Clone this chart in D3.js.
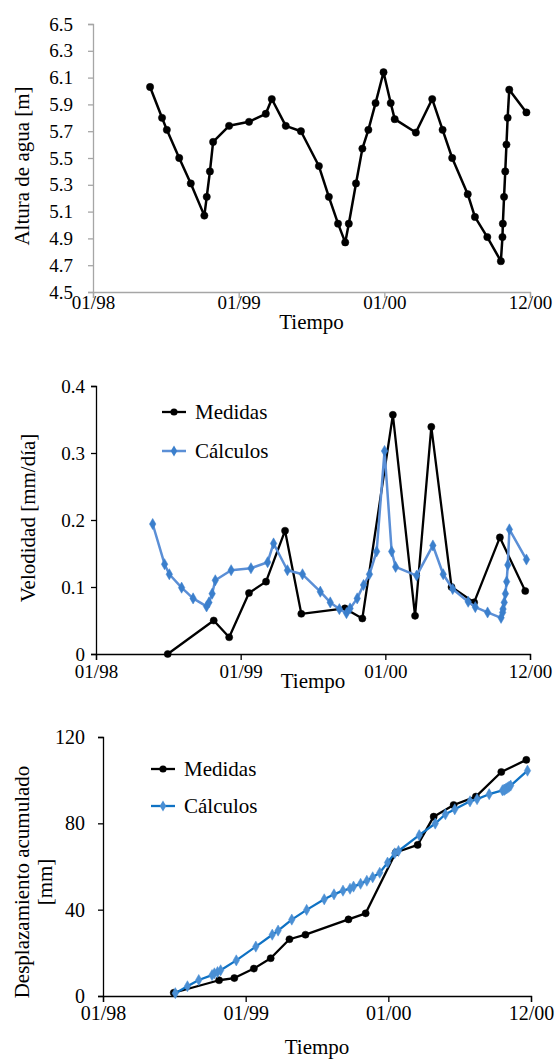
<!DOCTYPE html>
<html>
<head>
<meta charset="utf-8">
<script src="https://cdnjs.cloudflare.com/ajax/libs/d3/7.8.5/d3.min.js"></script>
<style>
body { margin: 0; background: #fff; }
svg { display: block; font-family: "Liberation Serif", "Times New Roman", serif; }
</style>
</head>
<body>
<div id="chart"></div>
<script>
// fechas de nivel de agua y de los cálculos
var fechasCalc = ['1998-05-24','1998-06-23','1998-07-05','1998-08-05','1998-09-03','1998-10-07','1998-10-13','1998-10-21','1998-10-29','1998-12-08',
    '1999-01-27','1999-03-10','1999-03-25','1999-04-29','1999-06-06','1999-07-21','1999-08-15','1999-09-07','1999-09-25','1999-10-04',
    '1999-10-22','1999-11-07','1999-11-22','1999-12-10','1999-12-30','2000-01-17','2000-01-27','2000-03-20','2000-04-30','2000-05-26',
    '2000-06-19','2000-07-28','2000-08-15','2000-09-15','2000-10-19','2000-10-23','2000-10-24','2000-10-27','2000-10-30','2000-11-02',
    '2000-11-05','2000-11-09','2000-12-22'];

var altura = [6.03, 5.80, 5.71, 5.50, 5.31, 5.07, 5.21, 5.40, 5.62, 5.74,
    5.77, 5.83, 5.94, 5.74, 5.70, 5.44, 5.21, 5.01, 4.87, 5.01,
    5.31, 5.57, 5.71, 5.91, 6.14, 5.91, 5.79, 5.69, 5.94, 5.71,
    5.50, 5.23, 5.06, 4.91, 4.73, 4.91, 5.01, 5.21, 5.40, 5.60,
    5.80, 6.01, 5.84];

var velCalc = [0.194, 0.134, 0.119, 0.099, 0.083, 0.071, 0.077, 0.090, 0.110, 0.125,
    0.128, 0.137, 0.165, 0.125, 0.119, 0.093, 0.077, 0.067, 0.061, 0.068,
    0.083, 0.103, 0.119, 0.153, 0.303, 0.153, 0.130, 0.117, 0.162, 0.119,
    0.097, 0.078, 0.070, 0.062, 0.054, 0.062, 0.067, 0.077, 0.090, 0.108,
    0.133, 0.186, 0.141];

// el acumulado calculado empieza en la 3a fecha
var fechasCalcAcum = fechasCalc.slice(2);
var despCalc = [1.3, 4.5, 7.4, 9.7, 10.5, 11.1, 11.9, 16.5,
    22.9, 28.4, 30.3, 35.4, 39.9, 44.8, 47.1, 48.8, 49.7, 50.7,
    52.0, 53.4, 55.0, 57.1, 61.8, 66.1, 67.2, 74.5, 79.9, 84.2,
    86.5, 90.2, 91.2, 93.5, 95.3, 95.5, 95.6, 95.9, 96.2, 96.6,
    97.0, 97.5, 104.4];

// medidas
var fechasMed = ['1998-07-01','1998-10-25','1998-12-03','1999-01-22','1999-03-06','1999-04-23','1999-06-03','1999-09-21',
    '1999-11-04','2000-01-20','2000-03-16','2000-04-26','2000-06-16','2000-08-12','2000-10-16','2000-12-19'];
var velMed = [0.000, 0.050, 0.025, 0.091, 0.108, 0.184, 0.060, 0.068, 0.053, 0.357, 0.057, 0.339, 0.100, 0.077, 0.174, 0.094];
var despMed = [1.5, 7.3, 8.3, 12.7, 17.5, 26.3, 28.4, 35.5, 38.3, 66.5, 70.0, 83.1, 88.5, 92.4, 103.8, 109.4];

// ejes
var ticksFecha = ['1998-01-01','1999-01-01','2000-01-01','2000-12-31'];
var ticksAltura = [4.5, 4.7, 4.9, 5.1, 5.3, 5.5, 5.7, 5.9, 6.1, 6.3, 6.5];
var ticksVel = [0, 0.1, 0.2, 0.3, 0.4];
var ticksDesp = [0, 40, 80, 120];
var leyenda = ['Medidas', 'Cálculos'];

var parse = d3.utcParse('%Y-%m-%d');
var fmtFecha = d3.utcFormat('%m/%y');

function serie(fechas, valores){
    return fechas.map(function(f, i){ return {fecha: parse(f), v: valores[i]}; });
}

var svg = d3
.select('#chart')
.append('svg')
.attr('width', 556)
.attr('height', 1059)
;

function panel(cfg){
    var x = d3.scaleUtc()
    .domain([parse(ticksFecha[0]), parse(ticksFecha[3])])
    .range([cfg.left, cfg.right]);

    var y = d3.scaleLinear()
    .domain(cfg.dominio)
    .range([cfg.bottom, cfg.top]);

    var g = svg.append('g');

    // eje y
    var ay = g.append('g')
    .attr('transform', 'translate(' + cfg.left + ',0)')
    .call(d3.axisLeft(y).tickValues(cfg.ticks).tickSize(5).tickPadding(cfg.padY).tickFormat(cfg.fmt));

    // eje x
    var ax = g.append('g')
    .attr('transform', 'translate(0,' + cfg.bottom + ')')
    .call(d3.axisBottom(x).tickValues(ticksFecha.map(parse)).tickSize(6).tickPadding(cfg.padX).tickFormat(fmtFecha));

    [ax, ay].forEach(function(a){
        a.attr('font-family', null);
        a.select('.domain').attr('stroke', cfg.colorEje).attr('stroke-width', 1.3);
        a.selectAll('.tick line').attr('stroke', cfg.colorEje).attr('stroke-width', 1.3);
        a.selectAll('.tick text')
        .attr('fill', '#000')
        .style('font-family', '"Liberation Serif", "Times New Roman", serif')
        .style('font-size', cfg.fontTick + 'px');
    });

    // titulo x
    g.append('text')
    .attr('x', (cfg.left + cfg.right) / 2)
    .attr('y', cfg.tituloXy)
    .attr('text-anchor', 'middle')
    .style('font-size', '21px')
    .text('Tiempo');

    // titulo y (una o dos lineas)
    var ty = g.append('text')
    .attr('transform', 'translate(' + cfg.tituloYx + ',' + cfg.tituloYc + ') rotate(-90)')
    .attr('text-anchor', 'middle')
    .style('font-size', '21px');
    cfg.tituloY.forEach(function(t, i){
        ty.append('tspan').attr('x', 0).attr('dy', i == 0 ? 0 : 23).text(t);
    });

    var linea = d3.line()
    .x(function(d){ return x(d.fecha); })
    .y(function(d){ return y(d.v); });

    cfg.series.forEach(function(s){
        g.append('path')
        .datum(s.datos)
        .attr('fill', 'none')
        .attr('stroke', s.color)
        .attr('stroke-width', s.ancho)
        .attr('stroke-linejoin', 'round')
        .attr('d', linea);

        g.selectAll(null)
        .data(s.datos)
        .enter()
        .append('path')
        .attr('transform', function(d){ return 'translate(' + x(d.fecha) + ',' + y(d.v) + ')'; })
        .attr('d', d3.symbol(s.forma, s.tam))
        .attr('fill', s.relleno)
        .attr('stroke', s.relleno)
        .attr('stroke-width', 0.5);
    });

    // leyenda
    if (cfg.leyenda){
        cfg.series.forEach(function(s, i){
            var ly = cfg.leyenda.y + i * cfg.leyenda.paso;
            g.append('line')
            .attr('x1', cfg.leyenda.x).attr('x2', cfg.leyenda.x + 24)
            .attr('y1', ly).attr('y2', ly)
            .attr('stroke', s.color).attr('stroke-width', s.ancho);
            g.append('path')
            .attr('transform', 'translate(' + (cfg.leyenda.x + 12) + ',' + ly + ')')
            .attr('d', d3.symbol(s.forma, s.tam))
            .attr('fill', s.relleno);
            g.append('text')
            .attr('x', cfg.leyenda.x + 33)
            .attr('y', ly + 7)
            .style('font-size', '21px')
            .text(leyenda[i]);
        });
    }
}

// grafico 1 - altura de agua
panel({
    left: 93, right: 530, top: 24, bottom: 292,
    dominio: [4.5, 6.5], ticks: ticksAltura, fmt: d3.format('.1f'),
    colorEje: '#a6a6a6', fontTick: 19, padY: 15, padX: -2,
    tituloXy: 329, tituloYx: 29, tituloYc: 166, tituloY: ['Altura de agua [m]'],
    series: [
        {datos: serie(fechasCalc, altura), color: '#000', relleno: '#000', ancho: 2.5, forma: d3.symbolCircle, tam: 42}
    ]
});

// grafico 2 - velocidad
panel({
    left: 96, right: 530, top: 386, bottom: 654,
    dominio: [0, 0.4], ticks: ticksVel, fmt: function(d){ return d == 0 ? '0' : d3.format('.1f')(d); },
    colorEje: '#000', fontTick: 19, padY: 6, padX: 5,
    tituloXy: 688, tituloYx: 35, tituloYc: 518, tituloY: ['Velodidad [mm/día]'],
    series: [
        {datos: serie(fechasMed, velMed), color: '#000', relleno: '#000', ancho: 2.3, forma: d3.symbolCircle, tam: 40},
        {datos: serie(fechasCalc, velCalc), color: '#5b8fd6', relleno: '#3b7fcc', ancho: 2.5, forma: d3.symbolDiamond, tam: 36}
    ],
    leyenda: {x: 162, y: 412, paso: 39}
});

// grafico 3 - desplazamiento acumulado
panel({
    left: 103, right: 531, top: 737, bottom: 996,
    dominio: [0, 120], ticks: ticksDesp, fmt: d3.format('d'),
    colorEje: '#000', fontTick: 20, padY: 13, padX: 4,
    tituloXy: 1054, tituloYx: 29, tituloYc: 882, tituloY: ['Desplazamiento acumulado', '[mm]'],
    series: [
        {datos: serie(fechasMed, despMed), color: '#000', relleno: '#000', ancho: 2.3, forma: d3.symbolCircle, tam: 40},
        {datos: serie(fechasCalcAcum, despCalc), color: '#0f72c4', relleno: '#4a8fd4', ancho: 2.3, forma: d3.symbolDiamond, tam: 36}
    ],
    leyenda: {x: 151, y: 769, paso: 37}
});
</script>
</body>
</html>
